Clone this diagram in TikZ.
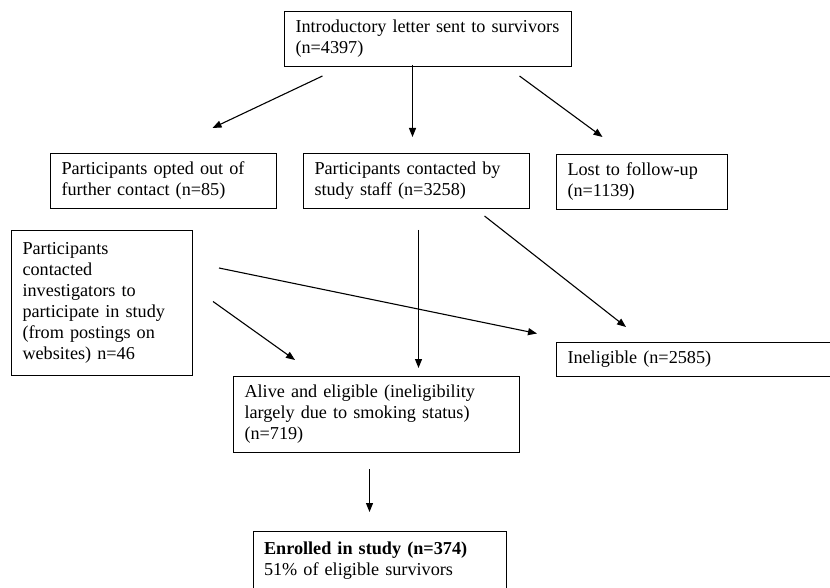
\documentclass[tikz,border=0pt]{standalone}
\usepackage{fontspec}
\setmainfont{Liberation Serif}
\usepackage{tikz}
\usetikzlibrary{positioning, calc, arrows.meta}

\tikzset{
    flowbox/.style={draw, line width=1pt, anchor=north west, align=left,
        inner xsep=11pt, inner ysep=0pt, font=\fontsize{18.2}{21}\selectfont},
    arr/.style={line width=1.1pt, -{Triangle[length=9pt,width=7pt]}}
}

\begin{document}
\begin{tikzpicture}[x=1pt, y=-1pt]

    \useasboundingbox (0,0) rectangle (830,588);

    % --- Top box ---
    \node[flowbox, minimum width=287, minimum height=55, text width=265] (top) at (284,11)
        {\mbox{Introductory letter sent to survivors}\\(n=4397)};

    % --- Second row ---
    \node[flowbox, minimum width=226, minimum height=55, text width=204] (opted) at (50,153)
        {Participants opted out of\\further contact (n=85)};
    \node[flowbox, minimum width=226, minimum height=55, text width=204] (contacted) at (303,153)
        {Participants contacted by\\study staff (n=3258)};
    \node[flowbox, minimum width=171, minimum height=55, text width=149] (lost) at (556,154)
        {Lost to follow-up\\(n=1139)};

    % --- Websites and ineligible ---
    \node[flowbox, minimum width=181, minimum height=145, text width=159] (web) at (11,230)
        {Participants\\contacted\\investigators to\\participate in study\\(from postings on\\websites) n=46};
    \node[flowbox, minimum width=290, minimum height=34, text width=268] (inel) at (556,342)
        {Ineligible (n=2585)};

    % --- Eligible and enrolled ---
    \node[flowbox, minimum width=286, minimum height=76, text width=264] (alive) at (233,376)
        {Alive and eligible (ineligibility\\largely due to smoking status)\\(n=719)};
    \node[flowbox, minimum width=253, minimum height=59, text width=231] (enrolled) at (252.5,531)
        {\textbf{Enrolled in study (n=374)}\\51\% of eligible survivors};

    % --- Arrows ---
    \draw[arr] ($(top.south)+(-105.5,9)$) -- ($(opted.north)+(49,-25)$);
    \draw[arr] ($(top.south)+(-15.5,-2)$) -- ($(contacted.north)+(-4,-16)$);
    \draw[arr] ($(top.south)+(91.5,9)$) -- ($(lost.north)+(-39.5,-17)$);

    \draw[arr] ($(contacted.south)+(2,21)$) -- ($(alive.north)+(42,-8)$);
    \draw[arr] ($(contacted.south)+(68,7)$) -- ($(inel.north west)+(70,-15)$);

    \draw[arr] ($(web.north east)+(26,38)$) -- ($(inel.west)+(-19,-26)$);
    \draw[arr] ($(web.east)+(20,-1.5)$) -- ($(alive.north west)+(62,-16)$);

    \draw[arr] ($(alive.south)+(-7,16)$) -- ($(enrolled.north)+(-10,-19)$);

\end{tikzpicture}
\end{document}
